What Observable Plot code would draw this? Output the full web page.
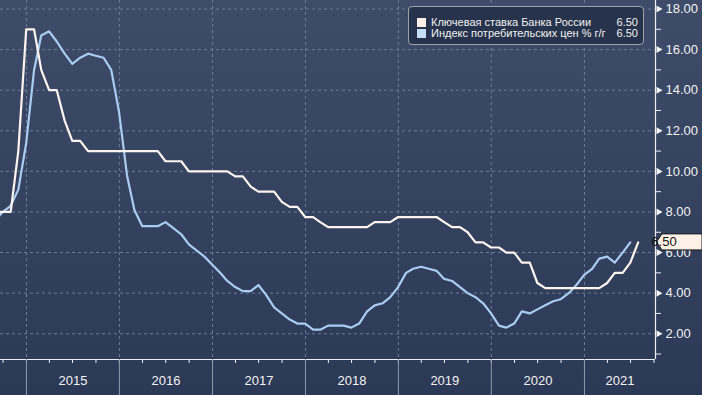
<!DOCTYPE html>
<html><head><meta charset="utf-8">
<script src="https://cdn.jsdelivr.net/npm/d3@7"></script>
<script src="https://cdn.jsdelivr.net/npm/@observablehq/plot@0.6"></script>
<style>
html,body{margin:0;padding:0;background:#2c3956;}
#wrap{position:relative;width:702px;height:395px;overflow:hidden;
  background:linear-gradient(to bottom,#3f4c69 0%,#2e3c59 85%,#2c3956 100%);
  font-family:"Liberation Sans",Arial,sans-serif;}
#legend{position:absolute;left:408px;top:6px;width:236px;height:39px;box-sizing:border-box;
  border:1px solid #9ea4ad;border-radius:4px;background:#27334c;color:#f2f2f2;font-size:11px;}
.row{position:absolute;left:8px;right:5px;height:11px;line-height:11px;}
.sw{position:absolute;left:0;top:1px;width:9px;height:9px;}
.lb{position:absolute;left:14px;top:0;white-space:nowrap;}
.vl{position:absolute;right:0;top:0;}
</style></head>
<body>
<div id="wrap"><div id="chart"></div>
<div id="legend"></div></div>
<script>
// ---- data ----
const seriesNames = ["Ключевая ставка Банка России", "Индекс потребительских цен % г/г"];
const seriesColors = ["#fcf4ee", "#a9cdf0"];
const swatchColors = ["#fdeee6", "#c6ddf7"];
const lastLabels = ["6.50", "6.50"];
const startMonth = "2014-08"; // first monthly observation (month-end values)
// Key rate, monthly, Aug 2014 .. Jul 2021
const keyRate = [
  8.0, 8.0, 8.0, 11.0, 17.0,
  17, 15, 14, 14, 12.5, 11.5, 11.5, 11, 11, 11, 11, 11,
  11, 11, 11, 11, 11, 10.5, 10.5, 10.5, 10, 10, 10, 10,
  10, 10, 9.75, 9.75, 9.25, 9, 9, 9, 8.5, 8.25, 8.25, 7.75,
  7.75, 7.5, 7.25, 7.25, 7.25, 7.25, 7.25, 7.25, 7.5, 7.5, 7.5, 7.75,
  7.75, 7.75, 7.75, 7.75, 7.75, 7.5, 7.25, 7.25, 7.0, 6.5, 6.5, 6.25,
  6.25, 6.0, 6.0, 5.5, 5.5, 4.5, 4.25, 4.25, 4.25, 4.25, 4.25, 4.25,
  4.25, 4.25, 4.5, 5.0, 5.0, 5.5, 6.5
];
// CPI y/y, monthly, Aug 2014 .. Jun 2021
const cpi = [
  7.6, 8.0, 8.3, 9.1, 11.4,
  15.0, 16.7, 16.9, 16.4, 15.8, 15.3, 15.6, 15.8, 15.7, 15.6, 15.0, 12.9,
  9.8, 8.1, 7.3, 7.3, 7.3, 7.5, 7.2, 6.9, 6.4, 6.1, 5.8, 5.4,
  5.0, 4.6, 4.3, 4.1, 4.1, 4.4, 3.9, 3.3, 3.0, 2.7, 2.5, 2.5,
  2.2, 2.2, 2.4, 2.4, 2.4, 2.3, 2.5, 3.1, 3.4, 3.5, 3.8, 4.3,
  5.0, 5.2, 5.3, 5.2, 5.1, 4.7, 4.6, 4.3, 4.0, 3.8, 3.5, 3.0,
  2.4, 2.3, 2.5, 3.1, 3.0, 3.2, 3.4, 3.6, 3.7, 4.0, 4.4, 4.9,
  5.2, 5.7, 5.8, 5.5, 6.0, 6.5
];
const yTicks = [2, 4, 6, 8, 10, 12, 14, 16, 18];
const yMinor = [1, 3, 5, 7, 9, 11, 13, 15, 17];
const yearLabels = ["2015", "2016", "2017", "2018", "2019", "2020", "2021"];
const xDomain = [new Date("2014-09-21"), new Date("2021-10-07")];
const yDomain = [0.73, 18.42];
const lastValue = 6.5;

// ---- build ----
const start = d3.utcParse("%Y-%m")(startMonth);
const toRows = vals => vals.map((v, i) => ({date: d3.utcDay.offset(d3.utcMonth.offset(start, i + 1), -1), value: v}));
const rateData = toRows(keyRate), cpiData = toRows(cpi);
const yearStarts = yearLabels.map(y => new Date(Date.UTC(+y, 0, 1)));
const yearLabelData = yearLabels.map((y, i) => {
  const a = Math.max(+yearStarts[i], +xDomain[0]);
  const b = Math.min(+new Date(Date.UTC(+y + 1, 0, 1)), +xDomain[1]);
  return {mid: new Date((a + b) / 2), label: y};
});
const quarters = d3.utcMonth.every(3).range(xDomain[0], xDomain[1]);
const axisCol = "#eceef2", gridCol = "#6b7c98";

const chart = Plot.plot({
  width: 702, height: 395,
  marginTop: 0, marginLeft: 0, marginRight: 47, marginBottom: 36,
  style: {background: "transparent", color: "#f2f2f2", fontFamily: "'Liberation Sans', Arial, sans-serif", fontSize: "13px", overflow: "visible"},
  x: {type: "utc", domain: xDomain},
  y: {domain: yDomain},
  marks: [
    Plot.ruleY(yTicks, {stroke: gridCol, strokeDasharray: "3,3", strokeWidth: 1}),
    Plot.ruleX(yearStarts, {stroke: gridCol, strokeDasharray: "3,3", strokeWidth: 1}),
    Plot.line(cpiData, {x: "date", y: "value", stroke: seriesColors[1], strokeWidth: 2.2, clip: true}),
    Plot.line(rateData, {x: "date", y: "value", stroke: seriesColors[0], strokeWidth: 2.2, clip: true}),
    Plot.ruleY([yDomain[0]], {stroke: axisCol, strokeWidth: 1.2}),
    Plot.ruleX([xDomain[1]], {stroke: axisCol, strokeWidth: 1.2}),
    Plot.axisY(yMinor, {anchor: "right", tickSize: 5, tickFormat: () => "", stroke: axisCol, label: null}),
    Plot.dot(yTicks, {y: d => d, frameAnchor: "right", dx: 3, symbol: "triangle", r: 2.6, rotate: 90, fill: "#f4f4f4", stroke: null}),
    Plot.axisY(yTicks, {anchor: "right", tickSize: 0, tickPadding: 10, tickFormat: d => d.toFixed(2), fill: "#f2f2f2", fontSize: 13, label: null}),
    Plot.axisX(quarters, {anchor: "bottom", tickSize: 4, tickFormat: () => "", stroke: axisCol, label: null}),
    Plot.axisX(yearStarts, {anchor: "bottom", tickSize: 36, tickFormat: () => "", stroke: "#8f9aae", label: null}),
    Plot.text(yearLabelData, {x: "mid", text: "label", frameAnchor: "bottom", dy: 25, fill: "#f2f2f2", fontSize: 13})
  ]
});
document.getElementById("chart").appendChild(chart);

// value tag on the right axis, positioned with the plot's y scale
const svg = d3.select(chart.tagName.toLowerCase() === "svg" ? chart : chart.querySelector("svg"));
const ty = chart.scale("y").apply(lastValue);
const g = svg.append("g");
g.append("path")
  .attr("d", `M656.5,${ty} L662,${ty - 8} L702,${ty - 8} L702,${ty + 8} L662,${ty + 8} Z`)
  .attr("fill", "#fdf1e7").attr("stroke", "#1b1b1b").attr("stroke-width", 1);
g.append("text").attr("x", 664).attr("y", ty).attr("dy", "0.35em")
  .attr("font-size", 13).attr("fill", "#111").attr("font-family", "'Liberation Sans', Arial, sans-serif")
  .text(lastValue.toFixed(2));

// legend
const leg = d3.select("#legend");
seriesNames.forEach((n, i) => {
  const r = leg.append("div").attr("class", "row").style("top", (10 + i * 11) + "px");
  r.append("div").attr("class", "sw").style("background", swatchColors[i]);
  r.append("div").attr("class", "lb").text(n);
  r.append("div").attr("class", "vl").text(lastLabels[i]);
});
</script>
</body></html>
